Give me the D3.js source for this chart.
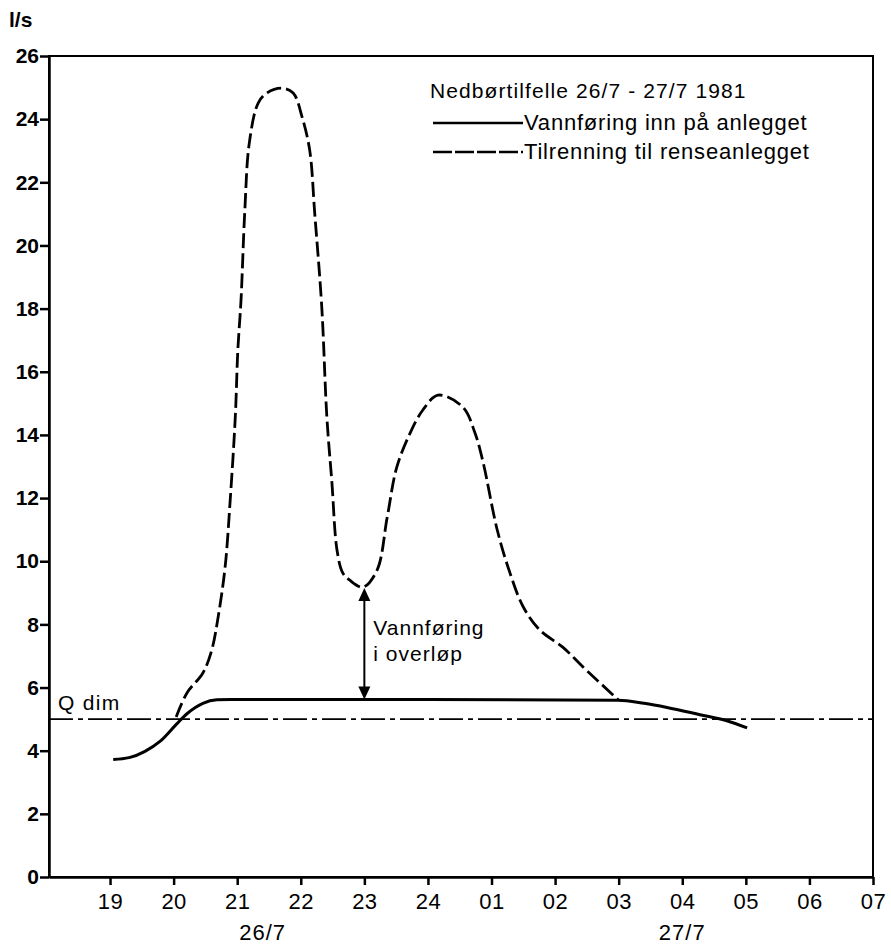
<!DOCTYPE html>
<html>
<head>
<meta charset="utf-8">
<script src="https://cdn.jsdelivr.net/npm/d3@7"></script>
<style>
  body { margin: 0; background: #fff; }
  svg { display: block; font-family: "Liberation Sans", Arial, Helvetica, sans-serif; }
  .axis path, .axis line { stroke: #000; stroke-width: 2.5; }
  .axis text { fill: #000; }
</style>
</head>
<body>
<svg id="chart" width="891" height="944"></svg>
<script>
// hours counted from 19 on 26/7, 24 = midnight, 25 = 01 on 27/7 ...
const tickHours = [19, 20, 21, 22, 23, 24, 25, 26, 27, 28, 29, 30, 31];
const tickLabels = ["19", "20", "21", "22", "23", "24", "01", "02", "03", "04", "05", "06", "07"];
const yTickValues = [0, 2, 4, 6, 8, 10, 12, 14, 16, 18, 20, 22, 24, 26];

const dateLabels = ["26/7", "27/7"];
const dateHours = [21.4, 28.0];

const QDIM = 5.0;

// Vannføring inn på anlegget (solid)
const inflowHours = [19.05, 19.3, 19.55, 19.79, 20.05, 20.21, 20.46, 20.68, 20.9, 24.0, 26.99, 27.4, 27.76, 28.28, 28.7, 29.02];
const inflowValues = [3.72, 3.78, 3.98, 4.3, 4.85, 5.17, 5.5, 5.61, 5.62, 5.62, 5.6, 5.5, 5.37, 5.14, 4.95, 4.72];

// Tilrenning til renseanlegget (dashed)
const runoffHours = [20.04, 20.21, 20.46, 20.6, 20.7, 20.81, 20.89, 20.97, 21.01, 21.06, 21.12, 21.19, 21.33, 21.47, 21.7,
  21.88, 22.02, 22.14, 22.22, 22.33, 22.41, 22.49, 22.57, 22.66, 22.77, 22.98, 23.2, 23.36, 23.51, 23.72, 23.92, 24.16,
  24.55, 24.74, 24.87, 25.09, 25.29, 25.5, 25.76, 26.12, 26.44, 27.0];
const runoffValues = [5.07, 5.83, 6.46, 7.19, 8.23, 9.82, 11.94, 14.57, 16.69, 18.27, 21.12, 23.24, 24.51, 24.83, 24.98,
  24.83, 24.07, 23.02, 21.0, 18.05, 14.57, 12.48, 10.35, 9.63, 9.4, 9.18, 9.72, 11.4, 12.98, 14.06, 14.79, 15.26,
  14.88, 14.06, 13.11, 10.99, 9.63, 8.55, 7.82, 7.28, 6.65, 5.6];

// overflow arrow at 23
const overflowHour = 23.0;
const overflowRange = [5.62, 9.15];

function whenDocumentLoaded(action) {
  if (document.readyState === "loading") {
    document.addEventListener("DOMContentLoaded", action);
  } else {
    action();
  }
}

function drawChart() {
  var svg = d3.select("#chart"),
    left = 49, right = 873, top = 56, bottom = 877;

  var x = d3.scaleLinear().domain([31 - (right - left) / 63.58, 31]).range([left, right]);
  var y = d3.scaleLinear().domain([0, 26]).range([bottom, top]);

  var inflow = inflowHours.map((h, i) => ({ h: h, v: inflowValues[i] }));
  var runoff = runoffHours.map((h, i) => ({ h: h, v: runoffValues[i] }));

  // frame
  svg.append("rect")
    .attr("x", left).attr("y", top)
    .attr("width", right - left).attr("height", bottom - top)
    .attr("fill", "none").attr("stroke", "#000").attr("stroke-width", 2);

  // y axis
  var yAxis = d3.axisLeft(y).tickValues(yTickValues).tickSize(9).tickSizeOuter(0).tickPadding(1);
  var gy = svg.append("g").attr("class", "axis").attr("transform", "translate(" + left + ",0)").call(yAxis);
  gy.selectAll("text").style("font-size", "21px").style("font-weight", "bold");

  // x axis
  var xAxis = d3.axisBottom(x).tickValues(tickHours).tickSize(8).tickSizeOuter(0).tickPadding(8)
    .tickFormat((d, i) => tickLabels[i]);
  var gx = svg.append("g").attr("class", "axis").attr("transform", "translate(0," + bottom + ")").call(xAxis);
  gx.selectAll("text").style("font-size", "22px").style("letter-spacing", "0.5px");

  // date labels under the axis
  svg.selectAll(".date")
    .data(dateLabels)
    .enter().append("text")
    .attr("class", "date")
    .attr("x", (d, i) => x(dateHours[i]))
    .attr("y", 940)
    .attr("text-anchor", "middle")
    .style("font-size", "22px")
    .style("letter-spacing", "1px")
    .text((d) => d);

  // unit label
  svg.append("text").attr("x", 9).attr("y", 27)
    .style("font-size", "21px").style("font-weight", "bold").text("l/s");

  // Q dim line
  svg.append("line")
    .attr("x1", left).attr("x2", right)
    .attr("y1", y(QDIM)).attr("y2", y(QDIM))
    .attr("stroke", "#000").attr("stroke-width", 1.6)
    .attr("stroke-dasharray", "24,5,5,5");
  svg.append("text").attr("x", 58).attr("y", 710)
    .style("font-size", "21px").style("letter-spacing", "1.3px").text("Q dim");

  // solid line: monotone keeps the long plateau flat
  var flatLine = d3.line()
    .curve(d3.curveMonotoneX)
    .x((d) => x(d.h))
    .y((d) => y(d.v));

  var line = d3.line()
    .curve(d3.curveCatmullRom.alpha(0.5))
    .x((d) => x(d.h))
    .y((d) => y(d.v));

  svg.append("path").datum(inflow)
    .attr("d", flatLine)
    .attr("fill", "none").attr("stroke", "#000").attr("stroke-width", 3);

  svg.append("path").datum(runoff)
    .attr("d", line)
    .attr("fill", "none").attr("stroke", "#000").attr("stroke-width", 2.8)
    .attr("stroke-dasharray", "15,5");

  // overflow arrow
  var ax = x(overflowHour),
    y0 = y(overflowRange[0]),
    y1 = y(overflowRange[1]);
  svg.append("line")
    .attr("x1", ax).attr("x2", ax).attr("y1", y1 + 10).attr("y2", y0 - 10)
    .attr("stroke", "#000").attr("stroke-width", 2);
  svg.append("path")
    .attr("d", "M" + ax + "," + y1 + "l-6,13h12z")
    .attr("fill", "#000");
  svg.append("path")
    .attr("d", "M" + ax + "," + y0 + "l-6,-13h12z")
    .attr("fill", "#000");
  svg.append("text").attr("x", ax + 9).attr("y", 635)
    .style("font-size", "21px").style("letter-spacing", "1px").text("Vannføring");
  svg.append("text").attr("x", ax + 9).attr("y", 661)
    .style("font-size", "21px").style("letter-spacing", "1px").text("i overløp");

  // legend
  var legend = svg.append("g");
  legend.append("text").attr("x", 430).attr("y", 98)
    .style("font-size", "21px").style("letter-spacing", "1.1px")
    .text("Nedbørtilfelle 26/7 - 27/7 1981");
  legend.append("line")
    .attr("x1", 433).attr("x2", 523).attr("y1", 123).attr("y2", 123)
    .attr("stroke", "#000").attr("stroke-width", 2.5);
  legend.append("text").attr("x", 524).attr("y", 130)
    .style("font-size", "22px").style("letter-spacing", "0.8px")
    .text("Vannføring inn på anlegget");
  legend.append("line")
    .attr("x1", 433).attr("x2", 523).attr("y1", 152).attr("y2", 152)
    .attr("stroke", "#000").attr("stroke-width", 2.5)
    .attr("stroke-dasharray", "19,3");
  legend.append("text").attr("x", 524).attr("y", 159)
    .style("font-size", "22px").style("letter-spacing", "0.8px")
    .text("Tilrenning til renseanlegget");
}

whenDocumentLoaded(drawChart);
</script>
</body>
</html>
